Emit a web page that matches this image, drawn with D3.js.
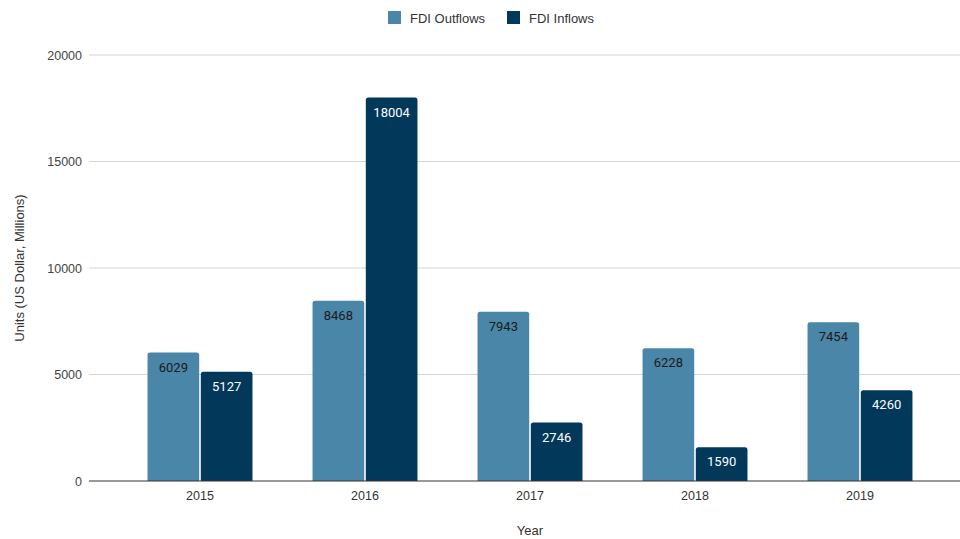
<!DOCTYPE html>
<html>
<head>
<meta charset="utf-8">
<script src="https://cdn.jsdelivr.net/npm/d3@7"></script>
<style>
  html, body { margin: 0; padding: 0; background: #fff; }
  svg { display: block; }
</style>
</head>
<body>
<svg id="chart" width="960" height="539"></svg>
<script>
// FDI flows by year (US Dollar, Millions)
const years = ["2015", "2016", "2017", "2018", "2019"];
const seriesNames = ["FDI Outflows", "FDI Inflows"];
const outflows = [6029, 8468, 7943, 6228, 7454];
const inflows = [5127, 18004, 2746, 1590, 4260];
const yTicks = [0, 5000, 10000, 15000, 20000];
const seriesColors = ["#4a86a8", "#02385a"];
const labelColors = ["#1a1a1a", "#ffffff"];

const svg = d3.select("#chart");
const W = 960, H = 539;
const plotLeft = 89, plotRight = 960, plotTop = 55, plotBottom = 481;

const y = d3.scaleLinear().domain([0, 20000]).range([plotBottom, plotTop]);
const x0 = d3.scaleBand().domain(years).range([117.5, 942.5])
  .paddingInner(0.364).paddingOuter(0.182);
const x1 = d3.scaleBand().domain(seriesNames).range([0, x0.bandwidth()]).paddingInner(0.03);

// horizontal gridlines
svg.append("g").selectAll("line").data(yTicks.filter(t => t > 0)).join("line")
  .attr("x1", plotLeft).attr("x2", plotRight)
  .attr("y1", d => y(d)).attr("y2", d => y(d))
  .attr("stroke", "#d4d4d4").attr("stroke-width", 1);

// y axis labels
const yAxis = d3.axisLeft(y).tickValues(yTicks).tickSize(0).tickPadding(0).tickFormat(d3.format("d"));
const gy = svg.append("g").attr("transform", `translate(${plotLeft - 7},0)`).call(yAxis);
gy.select(".domain").remove();
gy.selectAll("text").attr("font-family", "Liberation Sans, Arial, sans-serif")
  .attr("font-size", 12.5).attr("fill", "#444");

// bars with slightly rounded tops
function topRounded(xp, yp, w, h, r) {
  r = Math.min(r, h);
  return `M${xp},${yp + h}V${yp + r}Q${xp},${yp} ${xp + r},${yp}H${xp + w - r}Q${xp + w},${yp} ${xp + w},${yp + r}V${yp + h}Z`;
}

const rows = years.map((yr, i) => ({ year: yr, values: [outflows[i], inflows[i]] }));
const groups = svg.append("g").selectAll("g").data(rows).join("g")
  .attr("transform", d => `translate(${x0(d.year)},0)`);

groups.selectAll("path").data(d => d.values.map((v, j) => ({ v, j }))).join("path")
  .attr("d", d => topRounded(x1(seriesNames[d.j]), y(d.v), x1.bandwidth(), y(0) - y(d.v), 2.5))
  .attr("fill", d => seriesColors[d.j]);

groups.selectAll("text").data(d => d.values.map((v, j) => ({ v, j }))).join("text")
  .attr("x", d => x1(seriesNames[d.j]) + x1.bandwidth() / 2)
  .attr("y", d => y(d.v) + 19)
  .attr("text-anchor", "middle")
  .attr("font-family", "Roboto, sans-serif").attr("font-size", 13)
  .attr("fill", d => labelColors[d.j])
  .text(d => d.v);

// baseline
svg.append("line").attr("x1", plotLeft).attr("x2", plotRight)
  .attr("y1", y(0)).attr("y2", y(0)).attr("stroke", "#333").attr("stroke-width", 1);

// x axis labels
const xAxis = d3.axisBottom(x0).tickSize(0).tickPadding(0);
const gx = svg.append("g").attr("transform", `translate(0,${plotBottom + 19})`).call(xAxis);
gx.select(".domain").remove();
gx.selectAll("text").attr("dy", 0).attr("font-family", "Liberation Sans, Arial, sans-serif")
  .attr("font-size", 12.5).attr("fill", "#333");

// axis titles
svg.append("text").attr("x", 530).attr("y", 535)
  .attr("text-anchor", "middle").attr("font-family", "Liberation Sans, Arial, sans-serif")
  .attr("font-size", 13).attr("fill", "#333").text("Year");

svg.append("text").attr("transform", "translate(24,268) rotate(-90)")
  .attr("text-anchor", "middle").attr("font-family", "Liberation Sans, Arial, sans-serif")
  .attr("font-size", 13).attr("fill", "#333").text("Units (US Dollar, Millions)");

// legend
const legendX = [388, 507];
const legend = svg.append("g").selectAll("g").data(seriesNames).join("g")
  .attr("transform", (d, i) => `translate(${legendX[i]},11)`);
legend.append("rect").attr("width", 13).attr("height", 13)
  .attr("fill", (d, i) => seriesColors[i]);
legend.append("text").attr("x", 22).attr("y", 11.5)
  .attr("font-family", "Liberation Sans, Arial, sans-serif").attr("font-size", 13)
  .attr("fill", "#333").text(d => d);
</script>
</body>
</html>
